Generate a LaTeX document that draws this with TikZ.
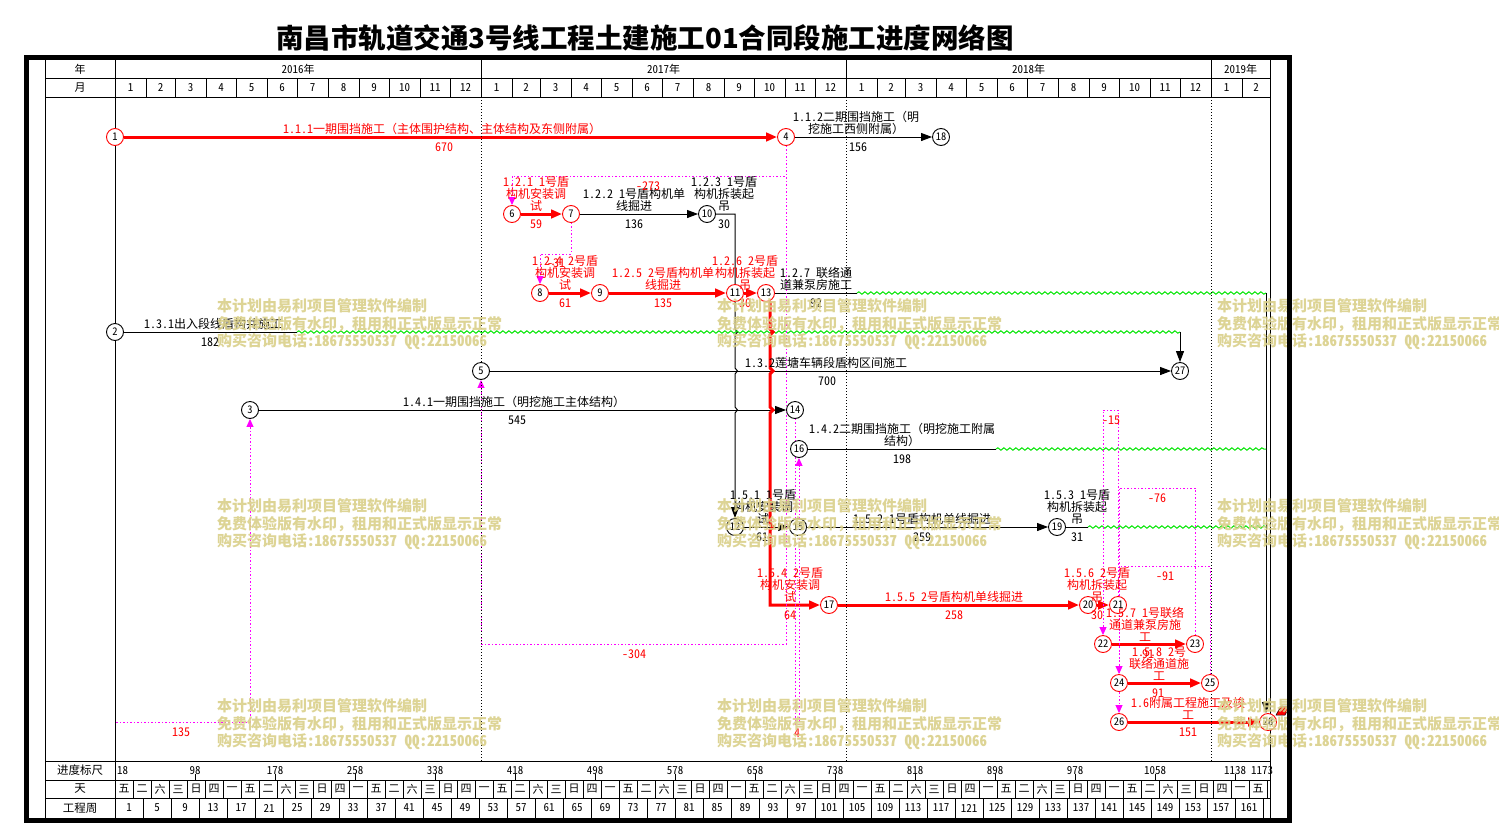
\documentclass[tikz,border=0pt]{standalone}
\usepackage{fontspec}
\setmainfont{Noto Sans CJK SC}
\newfontfamily\hw[RawFeature=+hwid]{Noto Sans CJK SC}
\usetikzlibrary{arrows.meta,decorations.pathmorphing,backgrounds}
\definecolor{myred}{RGB}{255,0,0}
\definecolor{mymag}{RGB}{255,0,255}
\definecolor{mygreen}{RGB}{0,230,0}
\definecolor{wmark}{RGB}{218,208,138}
\newcommand{\lbf}{\fontsize{12}{12}\selectfont}
\begin{document}
\begin{tikzpicture}[x=1pt,y=-1pt,
  ev/.style={circle,draw=black,line width=0.9pt,fill=white,minimum size=17pt,inner sep=0pt,font=\hw\fontsize{10.5}{11}\selectfont},
  evr/.style={ev,draw=myred},
  blk/.style={line width=1pt,-{Triangle[length=11pt,width=8pt]}},
  blkn/.style={line width=1pt},
  redl/.style={line width=3pt,myred,-{Triangle[length=11pt,width=8.5pt]}},
  virt/.style={mymag,line width=1pt,dash pattern=on 1.5pt off 2pt,-{Triangle[length=8pt,width=7pt]}},
  wavy/.style={mygreen,line width=1pt,decorate,decoration={snake,segment length=6pt,amplitude=1.2pt}},
  lab/.style={font=\lbf,align=center,inner sep=0pt,anchor=south},
  dur/.style={font=\hw\lbf,inner sep=0pt,anchor=base},
  hdr/.style={font=\hw\fontsize{11}{12}\selectfont,inner sep=0pt},
  wm/.style={anchor=west,inner sep=0pt,font=\fontsize{15}{16}\selectfont\bfseries,text=wmark},
  grid/.style={line width=1pt},
  yeardot/.style={line width=0.8pt,dash pattern=on 1pt off 2pt}
]
\useasboundingbox (0,0) rectangle (1499,825);
\begin{scope}[on background layer]
\fill[white] (0,0) rectangle (1499,825);
\end{scope}

% title
\node[font=\fontsize{27.5}{30}\selectfont\bfseries,inner sep=0pt] (title) at (645,38) {南昌市轨道交通3号线工程土建施工01合同段施工进度网络图};

% header grid
\draw[grid] (45,58) -- (45,818);
\draw[grid] (115,58) -- (115,818);
\draw[grid] (1270,58) -- (1270,818);
\foreach \yy in {78,97,761,780,798} \draw[grid] (45,\yy) -- (1270,\yy);
\foreach \xx in {481,846,1211} \draw[grid] (\xx,58) -- (\xx,97);
\foreach \xx in {481,846,1211} \draw[yeardot] (\xx,97) -- (\xx,761);
\node[hdr] at (80,69) {年};
\node[hdr] at (80,87.5) {月};
\node[hdr] at (298,69) {2016年};
\node[hdr] at (663.5,69) {2017年};
\node[hdr] at (1028.5,69) {2018年};
\node[hdr] at (1240.5,69) {2019年};
\foreach \a/\b/\m in {0/31/1,31/60/2,60/91/3,91/121/4,121/152/5,152/182/6,182/213/7,213/244/8,244/274/9,274/305/10,305/335/11,335/366/12,
366/397/1,397/425/2,425/456/3,456/486/4,486/517/5,517/547/6,547/578/7,578/609/8,609/639/9,639/670/10,670/700/11,700/731/12,
731/762/1,762/790/2,790/821/3,821/851/4,851/882/5,882/912/6,912/943/7,943/974/8,974/1004/9,1004/1035/10,1035/1065/11,1065/1096/12,
1096/1127/1,1127/1155/2}{
  \draw[grid] (115+\b,78) -- (115+\b,97);
  \node[hdr] at (115+\a/2+\b/2,87.5) {\m};
}

% bottom rows
\node[hdr,font=\fontsize{11.5}{12}\selectfont] at (80,770.5) {进度标尺};
\node[hdr,font=\fontsize{11.5}{12}\selectfont] at (80,789) {天};
\node[hdr,font=\fontsize{11.5}{12}\selectfont] at (80,808) {工程周};
\node[hdr,anchor=west] at (117,770.5) {18};
\foreach \v in {98,178,258,338,418,498,578,658,738,818,898,978,1058,1138}{
  \node[hdr] at (\v+97,770.5) {\v};
  \draw[grid] (\v+97,774) -- (\v+97,780);
}
\node[hdr] at (1262,770.5) {1173};
\foreach \k in {0,...,63}{
  \pgfmathtruncatemacro{\w}{mod(5+4*\k,7)}
  \node[hdr] at (124+18*\k,789) {\ifcase\w 日\or 一\or 二\or 三\or 四\or 五\or 六\fi};
  \draw[grid] (133+18*\k,780) -- (133+18*\k,798);
}
\foreach \k in {0,...,40}{
  \pgfmathtruncatemacro{\wk}{4*\k+1}
  \node[hdr] at (129+28*\k,808) {\wk};
  \draw[grid] (143+28*\k,798) -- (143+28*\k,818);
}

% event nodes
\node[evr] (n1) at (115,137) {1};
\node[evr] (n4) at (786,137) {4};
\node[ev] (n18) at (941,137) {18};
\node[evr] (n6) at (512,214) {6};
\node[evr] (n7) at (571,214) {7};
\node[ev] (n10) at (707,214) {10};
\node[evr] (n8) at (540,293) {8};
\node[evr] (n9) at (600,293) {9};
\node[evr] (n11) at (735,293) {11};
\node[evr] (n13) at (766,293) {13};
\node[ev] (n2) at (115,332) {2};
\node[ev] (n5) at (481,371) {5};
\node[ev] (n27) at (1180,371) {27};
\node[ev] (n3) at (250,410) {3};
\node[ev] (n14) at (795,410) {14};
\node[ev] (n16) at (799,449) {16};
\node[ev] (n12) at (735,527) {12};
\node[ev] (n15) at (798,527) {15};
\node[ev] (n19) at (1057,527) {19};
\node[evr] (n17) at (829,605) {17};
\node[evr] (n20) at (1088,605) {20};
\node[evr] (n21) at (1118,605) {21};
\node[evr] (n22) at (1103,644) {22};
\node[evr] (n23) at (1195,644) {23};
\node[evr] (n24) at (1119,683) {24};
\node[evr] (n25) at (1210,683) {25};
\node[evr] (n26) at (1119,722) {26};
\node[evr] (n28) at (1268,722) {28};
\fill[myred,draw=black,line width=0.5pt] (1276,715) -- (1281,706) -- (1290,706) -- (1285,715) -- cycle;

% helper coordinates
\coordinate (k10) at (735,214);
\coordinate (k13s) at (770,301);
\coordinate (k13) at (770,605);
\coordinate (g13a) at (857,293);
\coordinate (g13b) at (1266,293);
\coordinate (g2a) at (297,332);
\coordinate (g2b) at (1180,332);
\coordinate (g16a) at (996,449);
\coordinate (g16b) at (1266,449);
\coordinate (g19a) at (1088,527);
\coordinate (g19b) at (1266,527);
\coordinate (v1a) at (115,722);
\coordinate (v1b) at (250,722);
\coordinate (v3a) at (786,644);
\coordinate (v3b) at (481,644);
\coordinate (v2a) at (786,176);
\coordinate (v2b) at (512,176);
\coordinate (v4a) at (571,254);
\coordinate (v4b) at (540,254);
\coordinate (v5a) at (795,724);
\coordinate (v5b) at (799,724);
\coordinate (v6a) at (1118,410);
\coordinate (v6b) at (1103,410);
\coordinate (v7a) at (1195,488);
\coordinate (v7b) at (1119,488);
\coordinate (v8a) at (1210,566);
\coordinate (v8b) at (1119,566);

\begin{scope}[on background layer]
\draw[redl] (n1) -- (n4);
\draw[blk] (n4) -- (n18);
\draw[redl] (n6) -- (n7);
\draw[blk] (n7) -- (n10);
\draw[blk] (n10) -- (k10) -- ++(0,115) -- ++(2.5,3) -- ++(-2.5,3) -- ++(0,33) -- ++(2.5,3) -- ++(-2.5,3) -- ++(0,33) -- ++(2.5,3) -- ++(-2.5,3) -- (n12);
\draw[redl] (n8) -- (n9);
\draw[redl] (n9) -- (n11);
\draw[redl] (n11) -- (n13);
\draw[blkn] (n13) -- (g13a);
\draw[wavy] (g13a) -- (g13b);
\draw[blk] (g13b) -- (g13b |- n28.north);
\draw[blkn] (n2) -- (g2a);
\draw[wavy] (g2a) -- (g2b);
\draw[blk] (g2b) -- (n27);
\draw[blk] (n5) -- (n27);
\draw[blk] (n3) -- (n14);
\draw[blkn] (n16) -- (g16a);
\draw[wavy] (g16a) -- (g16b);
\draw[blk] (n12) -- (n15);
\draw[blk] (n15) -- (n19);
\draw[blkn] (n19) -- (g19a);
\draw[wavy] (g19a) -- (g19b);
\draw[redl] (k13s) -- ++(0,28) -- ++(3,3) -- ++(-3,3) -- ++(0,33) -- ++(3,3) -- ++(-3,3) -- ++(0,33) -- ++(3,3) -- ++(-3,3) -- ++(0,111) -- ++(3,3) -- ++(-3,3) -- (k13) -- (n17);
\draw[redl] (n17) -- (n20);
\draw[redl] (n20) -- (n21);
\draw[redl] (n22) -- (n23);
\draw[redl] (n24) -- (n25);
\draw[redl] (n26) -- (n28);
% virtual links
\draw[virt] (n1) -- (v1a) -- (v1b) -- (n3);
\draw[virt] (n4) -- (v3a) -- (v3b) -- (n5);
\draw[virt] (n4) -- (v2a) -- (v2b) -- (n6);
\draw[virt] (n7) -- (v4a) -- (v4b) -- (n8);
\draw[virt] (n14) -- (v5a) -- (v5b) -- (n16);
\draw[virt] (n21) -- (v6a) -- (v6b) -- (n22);
\draw[virt] (n23) -- (v7a) -- (v7b) -- (n24);
\draw[virt] (n25) -- (v8a) -- (v8b) -- (n26);
\end{scope}

% activity labels
\node[lab,text=myred] at (442,135) {{\hw 1.1.1}一期围挡施工（主体围护结构、主体结构及东侧附属）};
\node[dur,text=myred] at (444,151) {670};
\node[lab] at (856,135) {{\hw 1.1.2}二期围挡施工（明\\挖施工西侧附属）};
\node[dur] at (858,151) {156};
\node[lab,text=myred] at (536,212) {{\hw 1.2.1 1}号盾\\构机安装调\\试};
\node[dur,text=myred] at (536,228) {59};
\node[lab] at (634,212) {{\hw 1.2.2 1}号盾构机单\\线掘进};
\node[dur] at (634,228) {136};
\node[lab] at (724,212) {{\hw 1.2.3 1}号盾\\构机拆装起\\吊};
\node[dur] at (724,228) {30};
\node[lab,text=myred] at (565,291) {{\hw 1.2.4 2}号盾\\构机安装调\\试};
\node[dur,text=myred] at (565,307) {61};
\node[lab,text=myred] at (663,291) {{\hw 1.2.5 2}号盾构机单\\线掘进};
\node[dur,text=myred] at (663,307) {135};
\node[lab,text=myred] at (745,291) {{\hw 1.2.6 2}号盾\\构机拆装起\\吊};
\node[dur,text=myred] at (745,307) {30};
\node[lab] at (816,291) {{\hw 1.2.7 }联络通\\道兼泵房施工};
\node[dur] at (816,307) {92};
\node[lab] at (213,330) {{\hw 1.3.1}出入段线盾构井施工};
\node[dur] at (210,346) {182};
\node[lab] at (826,369) {{\hw 1.3.2}莲塘车辆段盾构区间施工};
\node[dur] at (827,385) {700};
\node[lab] at (514,408) {{\hw 1.4.1}一期围挡施工（明挖施工主体结构）};
\node[dur] at (517,424) {545};
\node[lab] at (902,447) {{\hw 1.4.2}二期围挡施工（明挖施工附属\\结构）};
\node[dur] at (902,463) {198};
\node[lab] at (763,525) {{\hw 1.5.1 1}号盾\\构机安装调\\试};
\node[dur] at (762,541) {61};
\node[lab] at (922,525) {{\hw 1.5.2 1}号盾构机单线掘进};
\node[dur] at (922,541) {259};
\node[lab] at (1077,525) {{\hw 1.5.3 1}号盾\\构机拆装起\\吊};
\node[dur] at (1077,541) {31};
\node[lab,text=myred] at (790,603) {{\hw 1.5.4 2}号盾\\构机安装调\\试};
\node[dur,text=myred] at (790,619) {64};
\node[lab,text=myred] at (954,603) {{\hw 1.5.5 2}号盾构机单线掘进};
\node[dur,text=myred] at (954,619) {258};
\node[lab,text=myred] at (1097,603) {{\hw 1.5.6 2}号盾\\构机拆装起\\吊};
\node[dur,text=myred] at (1097,619) {30};
\node[lab,text=myred] at (1145,642) {{\hw 1.5.7 1}号联络\\通道兼泵房施\\工};
\node[dur,text=myred] at (1148,658) {91};
\node[lab,text=myred] at (1159,681) {{\hw 1.5.8 2}号\\联络通道施\\工};
\node[dur,text=myred] at (1158,697) {91};
\node[lab,text=myred] at (1188,720) {{\hw 1.6}附属工程施工及竣\\工};
\node[dur,text=myred] at (1188,736) {151};
% lag labels
\node[dur,text=myred] at (181,736) {135};
\node[dur,text=myred] at (634,658) {-304};
\node[dur,text=myred] at (648,190) {-273};
\node[dur,text=myred] at (556,267) {-31};
\node[dur,text=myred] at (797,737) {4};
\node[dur,text=myred] at (1111,424) {-15};
\node[dur,text=myred] at (1157,502) {-76};
\node[dur,text=myred] at (1165,580) {-91};

% watermark
\foreach \yy in {0,200,400}{
  \foreach \xx in {217,717,1217}{
    \node[wm,opacity=0.9] at (\xx,306+\yy) {本计划由易利项目管理软件编制};
    \node[wm,opacity=0.9] at (\xx,324+\yy) {免费体验版有水印，租用和正式版显示正常};
    \node[wm,opacity=0.9] at (\xx,342+\yy) {购买咨询电话{\hw :18675550537 QQ:22150066}};
  }
}

% outer frame
\draw[line width=5pt] (26.5,57.5) rectangle (1289.5,820.5);
\end{tikzpicture}
\end{document}
